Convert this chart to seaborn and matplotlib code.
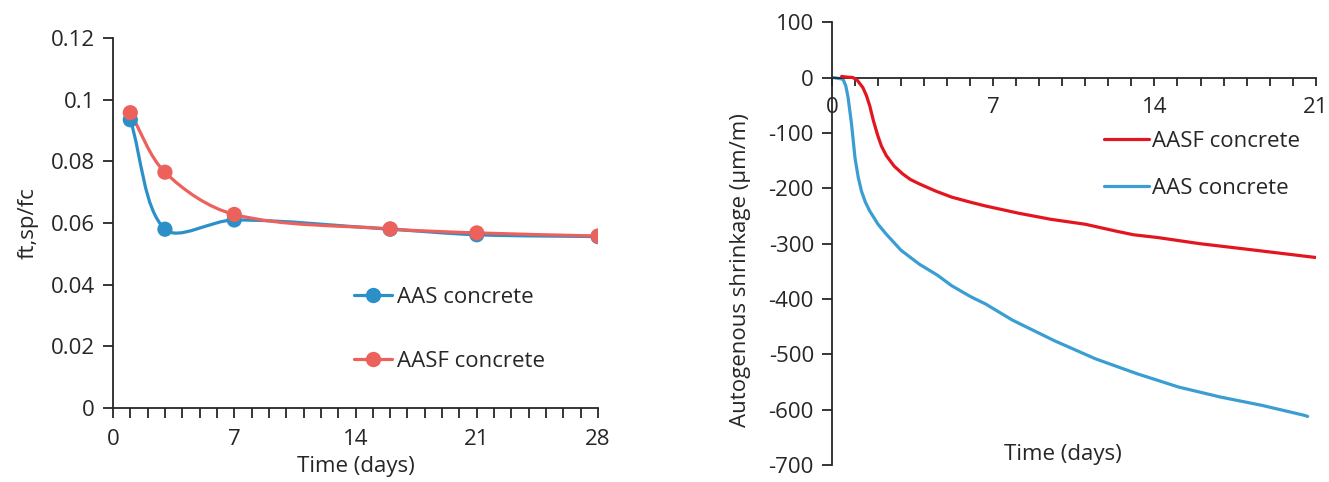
import matplotlib
matplotlib.use("Agg")
import matplotlib.pyplot as plt
import numpy as np
import pandas as pd
import seaborn as sns
from matplotlib.lines import Line2D
from matplotlib.patches import PathPatch
from matplotlib.path import Path
from matplotlib.ticker import MultipleLocator, FuncFormatter

# left panel: splitting tensile / compressive ratio
ratio_days = [1, 3, 7, 16, 21, 28]
ratio_aas = [0.0935, 0.058, 0.061, 0.058, 0.0562, 0.0556]
ratio_aasf = [0.0958, 0.0765, 0.0628, 0.0581, 0.0568, 0.0558]

# right panel: autogenous shrinkage
aasf_days = [0.42, 0.6, 0.91, 1.1, 1.34, 1.5, 1.64, 1.8, 1.99, 2.15, 2.36, 2.7, 3.07, 3.4,
             3.79, 4.5, 5.2, 6.0, 6.67, 8.1, 9.5, 11.0, 12.4, 13.1, 14.15, 15.96, 17.8,
             19.6, 21.0]
aasf_shrink = [2, 1, 0, -5, -18, -33, -51, -78, -105, -124, -141, -160, -174, -184,
               -192, -205, -216, -225, -232, -245, -256, -265, -278, -284, -289, -300,
               -309, -318, -325]
aas_days = [0.06, 0.48, 0.6, 0.7, 0.85, 1.0, 1.14, 1.28, 1.45, 1.64, 2.0, 2.36, 3.0, 3.79,
            4.58, 5.2, 6.03, 6.67, 7.83, 9.64, 11.44, 13.25, 15.05, 16.86, 18.66, 20.5,
            20.65]
aas_shrink = [0, -3, -15, -36, -84, -145, -180, -205, -225, -241, -265, -283, -312, -337,
              -357, -376, -396, -409, -438, -475, -508, -535, -559, -577, -592, -610,
              -612]

blue_l, red_l = "#2b8fc8", "#ec615b"
blue_r, red_r = "#3a9ed3", "#e3151f"
ink = "#262626"

sns.set_style("ticks")
plt.rcParams["font.family"] = ["Open Sans", "DejaVu Sans"]
plt.rcParams["axes.unicode_minus"] = False
plt.rcParams["text.color"] = ink
plt.rcParams["axes.labelcolor"] = ink
plt.rcParams["xtick.color"] = ink
plt.rcParams["ytick.color"] = ink
fs = 16


def excel_smooth(ax, xs, ys, f=1 / 3):
    # Bezier smoothing like a spreadsheet "smoothed line", done in display space
    pts = ax.transData.transform(np.column_stack([xs, ys]))
    n = len(pts)
    verts, codes = [pts[0]], [Path.MOVETO]
    for i in range(n - 1):
        p0 = pts[i - 1] if i > 0 else pts[i]
        p1, p2 = pts[i], pts[i + 1]
        p3 = pts[i + 2] if i + 2 < n else pts[i + 1]
        d01, d12, d23 = (np.linalg.norm(p1 - p0), np.linalg.norm(p2 - p1),
                         np.linalg.norm(p3 - p2))
        c1 = p1 + (p2 - p0) * f * d12 / (d01 + d12)
        c2 = p2 - (p3 - p1) * f * d12 / (d12 + d23)
        verts += [c1, c2, p2]
        codes += [Path.CURVE4] * 3
    verts = ax.transData.inverted().transform(np.array(verts))
    return Path(verts, codes)


fig = plt.figure(figsize=(13.29, 4.82), dpi=100)
ax1 = fig.add_axes([0.085, 0.1535, 0.365, 0.7675])
ax2 = fig.add_axes([0.626, 0.035, 0.364, 0.919])

# ---- left panel
ax1.set_xlim(0, 28)
ax1.set_ylim(0, 0.12)
left_df = pd.DataFrame({
    "day": ratio_days * 2,
    "ratio": ratio_aas + ratio_aasf,
    "mix": ["AAS concrete"] * 6 + ["AASF concrete"] * 6,
})
for vals, col in [(ratio_aas, blue_l), (ratio_aasf, red_l)]:
    ax1.add_patch(PathPatch(excel_smooth(ax1, ratio_days, vals), fill=False,
                            ec=col, lw=2.3, zorder=2))
sns.scatterplot(data=left_df, x="day", y="ratio", hue="mix",
                palette=[blue_l, red_l], s=120, edgecolor="none", legend=False,
                ax=ax1, zorder=3)
ax1.set_xlim(0, 28)
ax1.set_ylim(0, 0.12)
ax1.xaxis.set_major_locator(MultipleLocator(7))
ax1.xaxis.set_minor_locator(MultipleLocator(1))
ax1.yaxis.set_major_locator(MultipleLocator(0.02))
ax1.yaxis.set_major_formatter(FuncFormatter(lambda v, p: f"{round(v, 3):g}"))
ax1.set_xlabel("Time (days)", fontsize=fs, labelpad=0)
ax1.xaxis.set_label_coords(0.5, -0.13)
ax1.set_ylabel("ft,sp/fc", fontsize=fs, labelpad=9)
for s in ["top", "right"]:
    ax1.spines[s].set_visible(False)
for s in ["left", "bottom"]:
    ax1.spines[s].set_color(ink)
    ax1.spines[s].set_linewidth(1.3)
ax1.tick_params(axis="both", which="both", direction="out", color=ink, width=1.3,
                labelsize=fs)
ax1.tick_params(axis="x", which="both", length=7, pad=8)
ax1.tick_params(axis="y", which="minor", length=0)
ax1.tick_params(axis="y", which="major", length=7, pad=6)
h1 = [Line2D([], [], color=blue_l, lw=2.3, marker="o", ms=10),
      Line2D([], [], color=red_l, lw=2.3, marker="o", ms=10)]
fig.legend(h1, ["AAS concrete", "AASF concrete"], loc="upper left",
           bbox_to_anchor=(0.266, 0.405), frameon=False, fontsize=fs,
           handlelength=1.75, handletextpad=0.2, labelspacing=1.95,
           borderpad=0, borderaxespad=0)

# ---- right panel
ax2.set_xlim(0, 21)
ax2.set_ylim(-700, 100)
sns.lineplot(x=aasf_days, y=aasf_shrink, color=red_r, lw=2.3, ax=ax2, zorder=3)
sns.lineplot(x=aas_days, y=aas_shrink, color=blue_r, lw=2.3, ax=ax2, zorder=2)
ax2.set_xlim(0, 21)
ax2.set_ylim(-700, 100)
ax2.spines["bottom"].set_position(("data", 0))
for s in ["top", "right"]:
    ax2.spines[s].set_visible(False)
for s in ["left", "bottom"]:
    ax2.spines[s].set_color(ink)
    ax2.spines[s].set_linewidth(1.3)
ax2.xaxis.set_major_locator(MultipleLocator(7))
ax2.xaxis.set_minor_locator(MultipleLocator(1))
ax2.yaxis.set_major_locator(MultipleLocator(100))
ax2.tick_params(axis="both", which="both", direction="out", color=ink, width=1.3,
                labelsize=fs)
ax2.tick_params(axis="x", which="both", length=6, pad=8)
ax2.tick_params(axis="y", which="minor", length=0)
ax2.tick_params(axis="y", which="major", length=7, pad=6)
ax2.set_ylabel("Autogenous shrinkage (µm/m)", fontsize=fs)
ax2.yaxis.set_label_coords(-0.167, 0.44)
ax2.set_xlabel("Time (days)", fontsize=fs)
ax2.xaxis.set_label_coords(0.477, 0.047)
h2 = [Line2D([], [], color=red_r, lw=2.3), Line2D([], [], color=blue_r, lw=2.3)]
fig.legend(h2, ["AASF concrete", "AAS concrete"], loc="upper left",
           bbox_to_anchor=(0.831, 0.728), frameon=False, fontsize=fs,
           handlelength=2.0, handletextpad=0.15, labelspacing=1.15,
           borderpad=0, borderaxespad=0)

fig.savefig("out.png", dpi=100)
